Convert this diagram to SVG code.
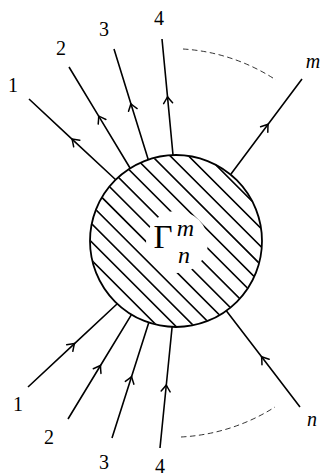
<svg xmlns="http://www.w3.org/2000/svg" width="322" height="476" viewBox="0 0 322 476">
<style>
.ln{fill:none;stroke:#000;stroke-width:1.6;marker-mid:url(#arr)}
.h{stroke:#000;stroke-width:1.6}
.d{fill:none;stroke:#000;stroke-width:0.8;stroke-dasharray:5.5 3.5}
.t{font-family:"Liberation Serif","DejaVu Serif",serif;font-size:20px;text-anchor:middle;fill:#000}
.i{font-style:italic}
</style>
<defs>
<marker id="arr" markerUnits="userSpaceOnUse" markerWidth="14" markerHeight="14" viewBox="-8 -7 10 14" refX="0" refY="0" orient="auto">
<path d="M-6.5,-4.5 Q-2,-1.2 0,0 Q-2,1.2 -6.5,4.5" fill="none" stroke="#000" stroke-width="1.5" stroke-linecap="round"/>
</marker>
<clipPath id="cc"><circle cx="176" cy="241" r="85.5"/></clipPath>
</defs>
<g id="connectors">
<path class="ln" d="M116,180 L72,139.1 L29,99"/>
<path class="ln" d="M130,168 L98.7,116.2 L69,67"/>
<path class="ln" d="M148.3,159.7 L130.9,103.7 L114,49"/>
<path class="ln" d="M173,155 L167.5,96.7 L162,39"/>
<path class="ln" d="M231,174 L268.1,124.3 L302,79"/>
<path class="ln" d="M28,387 L74.5,343.6 L117,304"/>
<path class="ln" d="M68,419 L100.5,365.5 L131.3,314.9"/>
<path class="ln" d="M112,438 L131.6,376.6 L148.8,322.6"/>
<path class="ln" d="M160,448 L166.3,385 L172.1,327"/>
<path class="ln" d="M300,407 L261.6,356.8 L226.3,310.8"/>
<path class="d" d="M183,49 A191,191 0 0 1 276,80"/>
<path class="d" d="M181,437 A194,194 0 0 0 275,407"/>
</g>
<g id="blob">
<g clip-path="url(#cc)">
<path class="h" d="M80,29.1 L270,219.1 M80,47.4 L270,237.4 M80,65.7 L270,255.7 M80,84 L270,274 M80,102.3 L270,292.3 M80,120.6 L270,310.6 M80,138.9 L270,328.9 M80,157.2 L270,347.2 M80,175.5 L270,365.5 M80,193.8 L270,383.8 M80,212.1 L270,402.1 M80,230.4 L270,420.4 M80,248.7 L270,438.7"/>
</g>
<circle cx="177" cy="242" r="31" fill="#fff"/>
<circle cx="176" cy="241" r="86" fill="none" stroke="#000" stroke-width="1.8"/>
<text class="t" x="163" y="247.5" style="font-size:33px">Γ</text>
<text class="t i" x="185.5" y="236" style="font-size:24px">m</text>
<text class="t i" x="184" y="263" style="font-size:24px">n</text>
</g>
<g id="labels-top">
<text class="t" x="13" y="91.5">1</text>
<text class="t" x="61" y="54.5">2</text>
<text class="t" x="104" y="35.5">3</text>
<text class="t" x="159" y="24.5">4</text>
<text class="t i" x="313" y="68">m</text>
</g>
<g id="labels-bottom">
<text class="t" x="18" y="410.5">1</text>
<text class="t" x="49" y="443.5">2</text>
<text class="t" x="104" y="468.5">3</text>
<text class="t" x="160" y="472.5">4</text>
<text class="t i" x="312" y="426">n</text>
</g>
</svg>
